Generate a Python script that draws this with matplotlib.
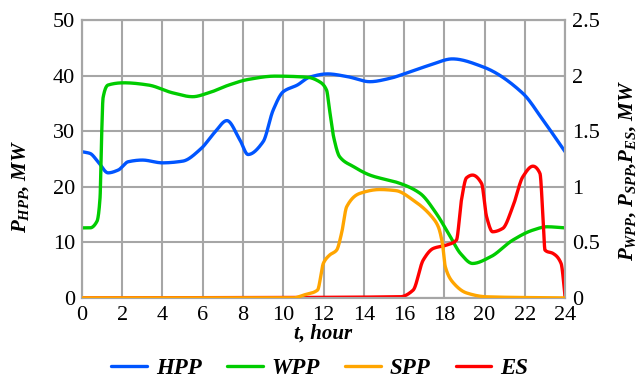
import numpy as np
import matplotlib
matplotlib.use("Agg")
import matplotlib.pyplot as plt

# ---------------- data ----------------
hpp_t = [0, 0.4, 0.8, 1.3, 1.8, 2.3, 3, 4, 5, 5.9, 6.6, 7.2, 7.85, 8.25, 9, 9.5, 10, 10.7, 11.3, 12.2, 13.2, 14.3, 15.3, 16.3, 17.3, 18.4, 19.9, 21.9, 22.9, 24]
hpp_v = [26.3, 26.0, 24.5, 22.5, 23.0, 24.5, 24.8, 24.3, 24.6, 26.8, 29.8, 31.9, 28.4, 25.8, 28.1, 33.8, 37.1, 38.3, 39.7, 40.3, 39.8, 38.9, 39.5, 40.7, 41.9, 43.0, 41.6, 36.8, 32.0, 26.3]

wpp_t = [0, 0.4, 0.75, 0.9, 0.97, 1.05, 1.3, 2.1, 3.3, 4.5, 5.5, 6.3, 7.3, 8.25, 9.6, 11.2, 11.8, 12.15, 12.3, 12.5, 12.8, 13.5, 14.3, 15.8, 16.8, 17.6, 18.3, 18.8, 19.4, 20.3, 21.4, 22.4, 23.1, 24]
wpp_v = [0.63, 0.63, 0.69, 0.9, 1.4, 1.8, 1.915, 1.935, 1.915, 1.845, 1.81, 1.845, 1.915, 1.965, 1.995, 1.985, 1.945, 1.87, 1.69, 1.45, 1.27, 1.18, 1.105, 1.03, 0.94, 0.76, 0.55, 0.40, 0.31, 0.37, 0.52, 0.61, 0.64, 0.63]

spp_t = [0, 10.5, 11.0, 11.7, 12.0, 12.3, 12.65, 12.9, 13.15, 13.8, 14.8, 15.6, 16.45, 17.45, 17.7, 17.9, 18.05, 18.45, 19.1, 20.1, 24]
spp_v = [0, 0, 0.025, 0.07, 0.315, 0.385, 0.43, 0.585, 0.82, 0.94, 0.975, 0.965, 0.88, 0.715, 0.64, 0.495, 0.28, 0.135, 0.045, 0.01, 0]

es_t = [0, 15.8, 16.45, 16.95, 17.45, 18.1, 18.6, 18.85, 19.1, 19.4, 19.85, 20.1, 20.4, 20.9, 21.4, 21.9, 22.4, 22.75, 22.9, 23.0, 23.4, 23.8, 23.95, 24]
es_v = [0, 0.01, 0.07, 0.34, 0.445, 0.475, 0.52, 0.88, 1.08, 1.105, 1.03, 0.73, 0.595, 0.625, 0.82, 1.09, 1.185, 1.12, 0.73, 0.43, 0.40, 0.31, 0.1, 0.0]

x_ticks = list(range(0, 25, 2))
left_ticks = [0, 10, 20, 30, 40, 50]
right_ticks = [0, 0.5, 1, 1.5, 2, 2.5]
right_tick_labels = ["0", "0.5", "1", "1.5", "2", "2.5"]
series_names = ["HPP", "WPP", "SPP", "ES"]
colors = ["#0055FF", "#00CC00", "#FFA500", "#FF0000"]


def smooth(t, v, n=40):
    """Monotone cubic (PCHIP) rendering of the read points."""
    t = np.asarray(t, float)
    v = np.asarray(v, float)
    h = np.diff(t)
    d = np.diff(v) / h
    m = np.zeros_like(v)
    for i in range(1, len(v) - 1):
        if d[i - 1] * d[i] > 0:
            w1 = 2 * h[i] + h[i - 1]
            w2 = h[i] + 2 * h[i - 1]
            m[i] = (w1 + w2) / (w1 / d[i - 1] + w2 / d[i])
    m[0] = d[0]
    m[-1] = d[-1]
    xs, ys = [], []
    for i in range(len(h)):
        s = np.linspace(0, 1, n, endpoint=False)
        h00 = 2 * s**3 - 3 * s**2 + 1
        h10 = s**3 - 2 * s**2 + s
        h01 = -2 * s**3 + 3 * s**2
        h11 = s**3 - s**2
        xs.append(t[i] + s * h[i])
        ys.append(h00 * v[i] + h10 * h[i] * m[i] + h01 * v[i + 1] + h11 * h[i] * m[i + 1])
    xs.append([t[-1]])
    ys.append([v[-1]])
    return np.concatenate(xs), np.concatenate(ys)


SERIF = "Liberation Serif"
plt.rcParams["font.family"] = [SERIF, "DejaVu Serif"]
plt.rcParams["mathtext.fontset"] = "custom"
plt.rcParams["mathtext.it"] = "Liberation Serif:italic:bold"
plt.rcParams["mathtext.rm"] = "Liberation Serif:bold"
plt.rcParams["mathtext.bf"] = "Liberation Serif:bold"

fig = plt.figure(figsize=(6.4, 3.92), dpi=100)
ax = fig.add_axes([0.128, 0.24, 0.755, 0.709])
ax2 = ax.twinx()

grid_c = "#A6A6A6"
tick_fs = 16
ax.set_xlim(0, 24)
ax.set_ylim(0, 50)
ax2.set_ylim(0, 2.5)
ax.set_xticks(x_ticks)
ax.set_xticklabels([str(v) for v in x_ticks], fontfamily=SERIF)
ax.set_yticks(left_ticks)
ax.set_yticklabels([str(v) for v in left_ticks], fontfamily=SERIF)
ax2.set_yticks(right_ticks)
ax2.set_yticklabels(right_tick_labels, fontfamily=SERIF)
ax.grid(True, color=grid_c, linewidth=1.5)
ax.set_axisbelow(True)
for a in (ax, ax2):
    for sp in a.spines.values():
        sp.set_color(grid_c)
        sp.set_linewidth(1.5)
    a.tick_params(length=0, labelsize=tick_fs, pad=5)
ax.tick_params(axis="x", pad=6)

lw = 2.4
lines = []
x, y = smooth(hpp_t, hpp_v)
lines += ax.plot(x, y, color=colors[0], lw=lw, solid_capstyle="round")
x, y = smooth(wpp_t, wpp_v)
lines += ax2.plot(x, y, color=colors[1], lw=lw, solid_capstyle="round", zorder=2)
x, y = smooth(spp_t, spp_v)
lines += ax2.plot(x, y, color=colors[2], lw=lw, solid_capstyle="round", zorder=3)
x, y = smooth(es_t, es_v)
lines += ax2.plot(x, y, color=colors[3], lw=lw, solid_capstyle="round", zorder=2.5)
ax2.set_zorder(ax.get_zorder() + 1)
ax2.patch.set_visible(False)

lab_kw = dict(fontsize=15, fontweight="bold", fontstyle="italic")
ax.set_xlabel("t, hour", labelpad=-1, **lab_kw)
ax.set_ylabel(r"$P_{HPP}$, MW", **lab_kw)
ax.yaxis.set_label_coords(-0.105, 0.40)
ax2.set_ylabel(r"$P_{WPP}$, $P_{SPP}$,$P_{ES}$, MW", **lab_kw)
ax2.yaxis.set_label_coords(1.108, 0.46)

fig.legend(lines, series_names, loc="lower center", bbox_to_anchor=(0.5, -0.02), ncol=4,
           frameon=False, handlelength=1.55, handletextpad=0.4, columnspacing=1.1,
           prop=dict(family=SERIF, size=16.5, weight="bold", style="italic"))

fig.savefig("out.png", dpi=100)
